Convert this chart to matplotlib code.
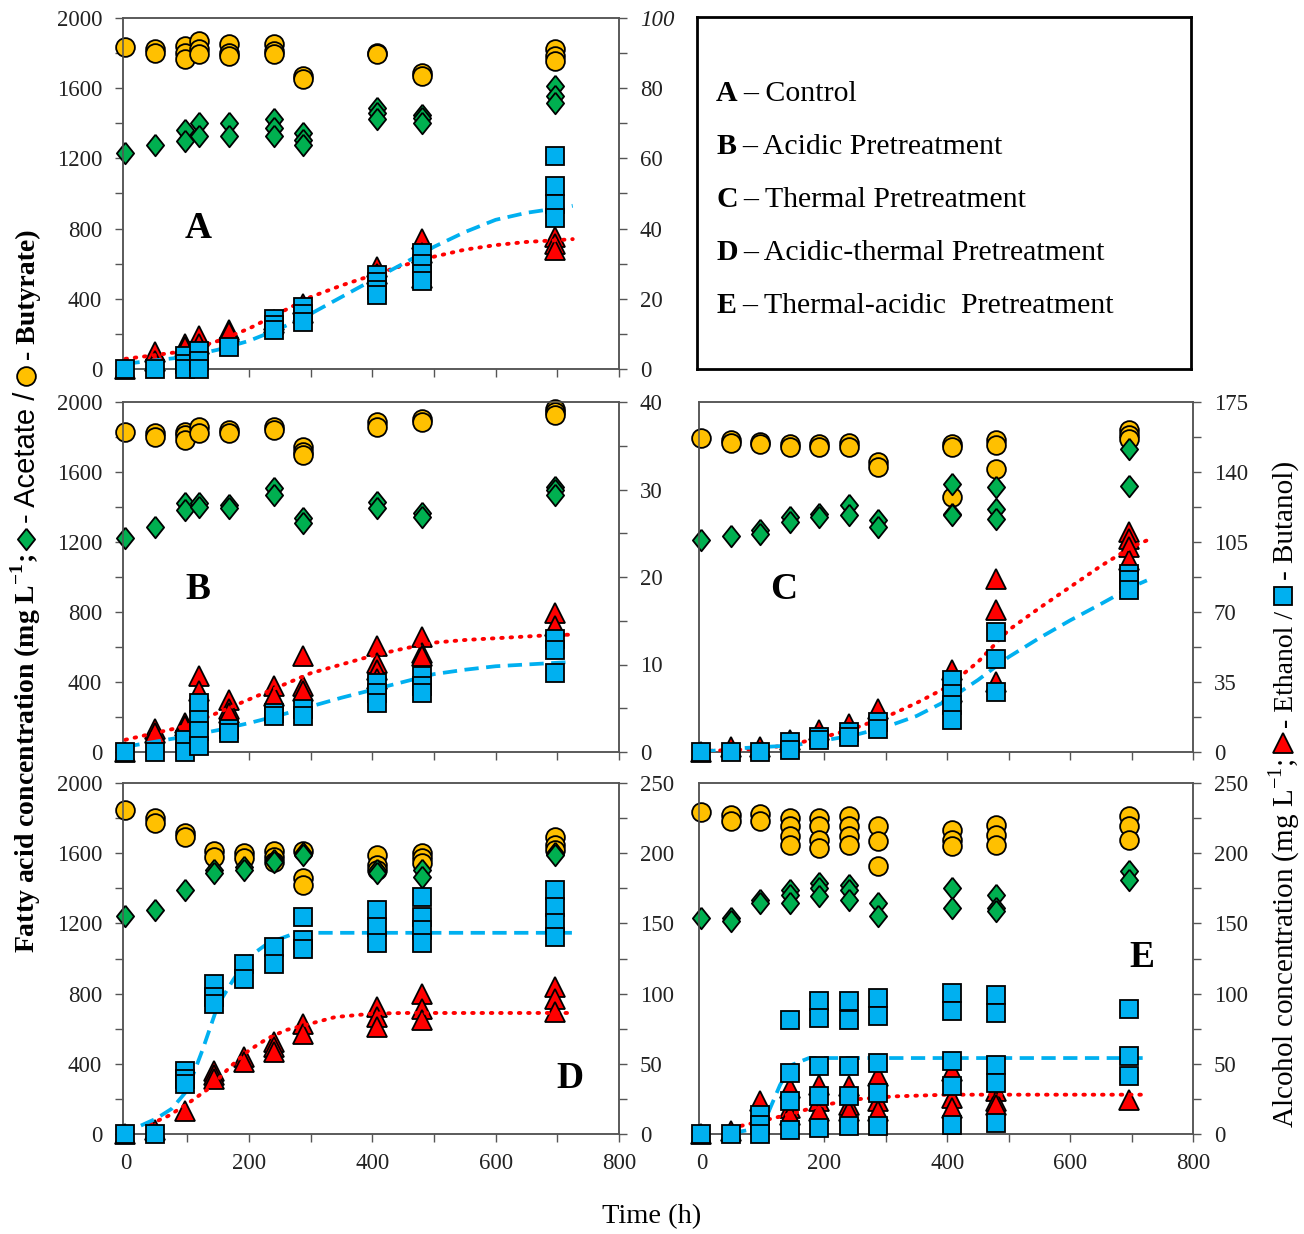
import numpy as np
import matplotlib
matplotlib.use("Agg")
import matplotlib.pyplot as plt
from matplotlib.lines import Line2D
from matplotlib.ticker import MultipleLocator

plt.rcParams['font.family'] = ['Liberation Serif', 'DejaVu Serif']
plt.rcParams['mathtext.fontset'] = 'custom'
plt.rcParams['mathtext.rm'] = 'Liberation Serif'
plt.rcParams['mathtext.bf'] = 'Liberation Serif:bold'

# ---------------------------------------------------------------- data
# sampling times (h)
times_ab = [0, 48, 96, 120, 168, 240, 288, 408, 480, 696]
times_cde = [0, 48, 96, 144, 192, 240, 288, 408, 480, 696]

# A - Control (fatty acids in mg/L, alcohols in mg/L); replicates per time
A_butyrate = [[1832], [1822, 1803], [1842, 1803, 1765], [1870, 1822, 1794], [1851, 1803, 1784],
              [1850, 1813, 1794], [1670, 1651], [1803, 1794], [1689, 1670], [1822, 1784, 1756]]
A_acetate = [[1231], [1275], [1364, 1298], [1403, 1326], [1403, 1326], [1422, 1374, 1326],
             [1345, 1307, 1279], [1489, 1460, 1422], [1450, 1431, 1403], [1613, 1555, 1517]]
A_ethanol = [[0], [4.8, 2.4], [7.2, 6.2], [9.5, 7.0], [11.0, 10.5], [14.0, 13.0], [18.6, 16.0],
             [29.0, 27.0], [37.0, 33.0, 26.0], [37.5, 35.5, 34.0]]
A_butanol = [[0], [0], [3.8, 1.5, 0], [5.2, 2.4, 0], [6.2], [14.3, 12.4, 11.0], [17.7, 15.7, 13.4],
             [26.7, 24.8, 22.4, 21.0], [33.0, 30.0, 27.0, 25.0], [60.6, 52.0, 47.0, 43.0]]
A_fit_t = [0, 50, 100, 150, 200, 250, 300, 350, 400, 450, 500, 550, 600, 650, 700, 725]
A_fit_ethanol = [2.9, 4.0, 5.2, 8.0, 11.5, 16.0, 20.5, 23.8, 26.7, 29.5, 32.0, 34.0, 35.3, 36.2, 36.7, 37.0]
A_fit_butanol = [1.5, 2.5, 3.5, 5.5, 8.0, 11.5, 15.7, 20.5, 25.3, 30.0, 34.8, 39.0, 42.5, 44.5, 45.8, 46.5]

# B - Acidic pretreatment
B_butyrate = [[1829], [1820, 1800], [1829, 1810, 1782], [1857, 1820], [1842, 1820], [1857, 1838],
              [1744, 1715, 1696], [1886, 1857], [1905, 1886], [1962, 1943, 1924]]
B_acetate = [[1221], [1288], [1421, 1383], [1421, 1402], [1410, 1395], [1506, 1468], [1335, 1307],
             [1430, 1392], [1364, 1345], [1516, 1497, 1468]]
B_ethanol = [[0], [2.6, 2.2], [3.3, 3.0], [8.7, 7.0], [6.0, 4.9, 4.5], [7.5, 6.4], [11.0, 7.5, 7.0],
             [12.1, 10.2, 9.4, 8.3], [13.2, 11.3, 11.0], [15.9, 14.4]]
B_butanol = [[0], [0], [1.4, 0], [5.6, 3.7, 2.4, 0.7], [2.6, 2.2], [4.5, 4.1], [4.9, 4.1],
             [7.9, 6.8, 5.6], [8.7, 7.5, 6.8], [12.9, 11.7, 9.0]]
B_fit_t = [0, 50, 100, 150, 200, 250, 300, 350, 400, 450, 500, 550, 600, 650, 700, 725]
B_fit_ethanol = [1.4, 2.2, 3.0, 4.5, 6.0, 7.5, 9.0, 10.0, 11.0, 11.8, 12.5, 12.8, 13.0, 13.2, 13.4, 13.4]
B_fit_butanol = [0.6, 1.2, 1.8, 2.5, 3.3, 4.2, 5.2, 6.2, 7.1, 8.0, 8.9, 9.4, 9.8, 10.0, 10.2, 10.3]

# C - Thermal pretreatment
C_butyrate = [[1796], [1780, 1765], [1771, 1762], [1762, 1743], [1762, 1743], [1766, 1743],
              [1657, 1629], [1762, 1743, 1457], [1781, 1752, 1619], [1838, 1810, 1790]]
C_acetate = [[1210], [1232], [1267, 1244], [1343, 1314], [1362, 1343], [1410, 1352], [1324, 1286],
             [1533, 1362, 1352], [1514, 1390, 1333], [1733, 1518]]
C_ethanol = [[0], [2.5], [2.5], [5.8], [10.8], [14.2], [21.7], [40.8, 30.0], [86.7, 70.8, 35.0],
             [110.0, 106.7, 102.5, 95.8]]
C_butanol = [[0], [0], [0], [5.0, 0.8], [7.5, 5.8], [10.0, 7.5], [15.0, 11.7],
             [35.8, 29.2, 23.3, 15.8], [60.0, 46.7, 30.0], [89.0, 85.8, 80.8]]
C_fit_t = [0, 50, 100, 150, 200, 250, 300, 350, 400, 450, 500, 550, 600, 650, 700, 725]
C_fit_ethanol = [0.5, 1.0, 1.7, 4.0, 7.5, 12.0, 17.5, 24.5, 32.5, 45.0, 61.0, 72.0, 82.5, 93.0, 102.5, 105.8]
C_fit_butanol = [0.0, 1.7, 2.5, 3.3, 5.8, 8.5, 12.5, 18.0, 25.8, 36.0, 47.5, 57.0, 65.8, 74.0, 82.5, 85.8]

# D - Acidic-thermal pretreatment
D_butyrate = [[1848], [1800, 1771], [1714, 1695], [1610, 1581], [1600, 1571], [1610, 1581, 1552],
              [1610, 1457, 1419], [1590, 1533, 1505], [1600, 1571, 1543], [1695, 1648, 1619]]
D_acetate = [[1242], [1276], [1390], [1505, 1486], [1524, 1505], [1560, 1550], [1600, 1590],
             [1505, 1486], [1505, 1467], [1600, 1590]]
D_ethanol = [[0], [3.0], [16.7], [45.0, 41.7, 39.0], [54.8, 51.2], [65.5, 62.0, 58.3], [78.6, 71.4],
             [90.5, 83.3, 76.2], [100.0, 89.3, 81.0], [104.8, 96.4, 86.9]]
D_butanol = [[0], [0], [45.2, 39.3, 35.7], [107.0, 97.6, 92.9], [121.0, 110.7], [133.0, 121.0],
             [154.8, 138.0, 132.0], [159.5, 147.6, 135.7], [169.0, 154.8, 145.0, 135.7],
             [173.8, 161.9, 150.0, 140.5]]
D_fit_t_ethanol = [40, 70, 100, 137, 170, 200, 230, 260, 300, 340, 400, 450, 500, 600, 725]
D_fit_ethanol = [7.0, 13.0, 21.4, 33.0, 48.0, 59.5, 68.0, 74.0, 78.6, 83.3, 85.7, 86.2, 86.2, 86.2, 86.2]
D_fit_t_butanol = [25, 50, 75, 100, 125, 150, 175, 200, 225, 250, 275, 300, 400, 500, 600, 725]
D_fit_butanol = [6.0, 11.0, 18.0, 31.0, 60.0, 92.0, 110.0, 126.0, 134.0, 139.0, 143.0, 143.3, 143.3,
                 143.3, 143.3, 143.3]

# E - Thermal-acidic pretreatment
E_butyrate = [[1835], [1819, 1781], [1823, 1781], [1800, 1753, 1696, 1648], [1800, 1753, 1677, 1630],
              [1810, 1753, 1696, 1648], [1753, 1667, 1525], [1734, 1677, 1639], [1762, 1705, 1648],
              [1810, 1753, 1677]]
E_acetate = [[1231], [1231, 1211], [1335, 1316], [1392, 1364, 1316], [1430, 1402, 1354],
             [1421, 1392, 1335], [1316, 1240], [1402, 1288], [1364, 1288, 1269], [1497, 1449]]
E_ethanol = [[0], [2.0], [23.3], [32.8, 18.5, 13.8], [35.0, 23.3, 16.1], [34.0, 20.9, 16.1],
             [41.0, 23.3, 16.1], [44.6, 25.6, 18.5], [30.4, 23.3, 20.9], [24.5]]
E_butanol = [[0], [0], [13.8, 6.6, 0], [81.4, 43.4, 23.3, 3.1], [94.5, 82.6, 48.2, 26.8, 4.3],
             [94.5, 81.4, 48.2, 26.8, 5.5], [96.9, 83.8, 50.6, 29.2, 5.5], [100.4, 87.4, 51.8, 34.0, 6.6],
             [99.2, 86.2, 49.4, 36.3, 7.8], [89.3, 55.3, 41.1]]
E_fit_t_ethanol = [50, 107, 141, 190, 245, 314, 400, 500, 600, 725]
E_fit_ethanol = [4.3, 10.2, 13.8, 19.7, 24.5, 26.8, 28.0, 28.0, 28.0, 28.0]
E_fit_t_butanol = [50, 80, 105, 128, 148, 175, 200, 300, 400, 500, 600, 725]
E_fit_butanol = [0.7, 3.1, 11.4, 35.0, 49.4, 54.1, 54.1, 54.1, 54.1, 54.1, 54.1, 54.1]

legend_letters = ['A', 'B', 'C', 'D', 'E']
legend_names = ['Control', 'Acidic Pretreatment', 'Thermal Pretreatment',
                'Acidic-thermal Pretreatment', 'Thermal-acidic  Pretreatment']

# ---------------------------------------------------------------- style
W, H = 1304, 1234
DPI = 100
YELLOW, GREEN, RED, BLUE = '#FFC000', '#00B050', '#FF0000', '#00B0F0'
SPINE = '#555555'
TICKFS = 16.5
DIAMOND = [(0, 1), (0.8, 0), (0, -1), (-0.8, 0), (0, 1)]

mk_circle = dict(marker='o', ms=13.5, mfc=YELLOW, mec='black', mew=1.3, ls='none', clip_on=False)
mk_diamond = dict(marker=DIAMOND, ms=15.5, mfc=GREEN, mec='black', mew=1.3, ls='none', clip_on=False)
mk_tri = dict(marker='^', ms=14.5, mfc=RED, mec='black', mew=1.3, ls='none', clip_on=False)
mk_square = dict(marker='s', ms=13.3, mfc=BLUE, mec='black', mew=1.3, ls='none', clip_on=False)

fig = plt.figure(figsize=(W / DPI, H / DPI), dpi=DPI)


def rect(l, t, r, b):
    return [l / W, 1 - b / H, (r - l) / W, (b - t) / H]


def flat(times, groups):
    xs, ys = [], []
    for t, g in zip(times, groups):
        for v in g:
            xs.append(t)
            ys.append(v)
    return xs, ys


def style_axis(ax):
    for s in ax.spines.values():
        s.set_color(SPINE)
        s.set_linewidth(1.1)
    ax.tick_params(which='both', direction='out', length=6, width=1.0, color=SPINE,
                   labelsize=TICKFS, labelcolor='#222222')


def panel(box, times, but, ace, eth, bua, fit_e, fit_b, rmax, rlab, rminor,
          letter, letter_xy, left_labels=True, x_labels=False):
    ax = fig.add_axes(rect(*box))
    ax.set_xlim(-4, 800)
    ax.set_ylim(0, 2000)
    style_axis(ax)
    ax.xaxis.set_major_locator(MultipleLocator(200))
    ax.xaxis.set_minor_locator(MultipleLocator(100))
    if not x_labels:
        ax.tick_params(axis='x', which='both', labelbottom=False)
    ax.tick_params(axis='x', pad=8)
    if left_labels:
        ax.yaxis.set_major_locator(MultipleLocator(400))
        ax.yaxis.set_minor_locator(MultipleLocator(200))
        ax.tick_params(axis='y', pad=9)
    else:
        ax.set_yticks([])
    ax.plot(*flat(times, but), zorder=3, **mk_circle)
    ax.plot(*flat(times, ace), zorder=4, **mk_diamond)
    ax.text(letter_xy[0], letter_xy[1], letter, fontsize=27, fontweight='bold',
            ha='center', va='center')

    rx = ax.twinx()
    rx.set_ylim(0, rmax)
    style_axis(rx)
    rx.yaxis.set_major_locator(MultipleLocator(rlab))
    rx.yaxis.set_minor_locator(MultipleLocator(rminor))
    rx.tick_params(axis='y', pad=9)
    rx.yaxis.set_major_formatter(lambda v, p: f'{v:g}')
    rx.plot(*flat(times, eth), zorder=2, **mk_tri)
    rx.plot(fit_e[0], fit_e[1], color=RED, lw=2.8, ls=(0, (0.4, 2.0)),
            dash_capstyle='round', zorder=3)
    rx.plot(fit_b[0], fit_b[1], color=BLUE, lw=2.7, ls=(0, (3.8, 2.0)), zorder=3)
    rx.plot(*flat(times, bua), zorder=4, **mk_square)
    return ax, rx


axA, rxA = panel((123, 18, 619, 369), times_ab, A_butyrate, A_acetate, A_ethanol, A_butanol,
                 (A_fit_t, A_fit_ethanol), (A_fit_t, A_fit_butanol), 100, 20, 10,
                 'A', (117, 800))
axB, rxB = panel((123, 402, 619, 752), times_ab, B_butyrate, B_acetate, B_ethanol, B_butanol,
                 (B_fit_t, B_fit_ethanol), (B_fit_t, B_fit_butanol), 40, 10, 5,
                 'B', (117, 926))
axC, rxC = panel((699, 402, 1193, 752), times_cde, C_butyrate, C_acetate, C_ethanol, C_butanol,
                 (C_fit_t, C_fit_ethanol), (C_fit_t, C_fit_butanol), 175, 35, 17.5,
                 'C', (134, 926), left_labels=False)
axD, rxD = panel((123, 783, 619, 1134), times_cde, D_butyrate, D_acetate, D_ethanol, D_butanol,
                 (D_fit_t_ethanol, D_fit_ethanol), (D_fit_t_butanol, D_fit_butanol), 250, 50, 25,
                 'D', (720, 319), x_labels=True)
axE, rxE = panel((699, 783, 1193, 1134), times_cde, E_butyrate, E_acetate, E_ethanol, E_butanol,
                 (E_fit_t_ethanol, E_fit_ethanol), (E_fit_t_butanol, E_fit_butanol), 250, 50, 25,
                 'E', (717, 1003), left_labels=False, x_labels=True)

# the top label of the control panel's alcohol axis is set in italics
fig.canvas.draw()
for lab in rxA.get_yticklabels():
    if lab.get_text() == '100':
        lab.set_fontstyle('italic')

# ---------------------------------------------------------------- legend box
box = fig.add_axes(rect(697, 17, 1191, 369))
box.set_xticks([])
box.set_yticks([])
for s in box.spines.values():
    s.set_linewidth(2.0)
    s.set_color('black')

renderer = fig.canvas.get_renderer()


def px(x, y):
    return x / W, 1 - y / H


def run(x0, y0, pieces, vertical=False):
    """Lay out text pieces and inline markers one after another (pixel coords, y downward)."""
    pos = y0 if vertical else x0
    for kind, val, kw in pieces:
        if kind == 'text':
            if vertical:
                t = fig.text(*px(x0, pos), val, rotation=90, rotation_mode='anchor',
                             ha='left', va='baseline', **kw)
                pos -= t.get_window_extent(renderer).height
            else:
                t = fig.text(*px(pos, y0), val, ha='left', va='baseline', **kw)
                pos += t.get_window_extent(renderer).width
        elif kind == 'gap':
            pos += -val if vertical else val
        elif kind == 'marker':
            size_px, off, style = kw['size'], kw['off'], kw['style']
            if vertical:
                c = pos - size_px / 2
                fig.add_artist(Line2D([px(x0 - off, c)[0]], [px(x0 - off, c)[1]],
                                      transform=fig.transFigure, **style))
                pos -= size_px
            else:
                c = pos + size_px / 2
                fig.add_artist(Line2D([px(c, y0 - off)[0]], [px(c, y0 - off)[1]],
                                      transform=fig.transFigure, **style))
                pos += size_px


LEGFS = 21.5
for i, (L, name) in enumerate(zip(legend_letters, legend_names)):
    run(716, 101 + 53 * i, [('text', L, dict(fontsize=LEGFS, fontweight='bold')),
                            ('gap', 6, None),
                            ('text', '– ' + name, dict(fontsize=LEGFS))])

# ---------------------------------------------------------------- axis titles
mstyle = lambda d: {k: v for k, v in d.items() if k != 'clip_on'}
run(35, 953, [
    ('text', r'Fatty acid concentration (mg L$^{\mathbf{-1}}$;', dict(fontsize=20, fontweight='bold')),
    ('gap', 5, None),
    ('marker', None, dict(size=20, off=9, style=mstyle(mk_diamond))),
    ('gap', 6, None),
    ('text', '- Acetate /', dict(fontsize=21, family=['Liberation Sans', 'DejaVu Sans'])),
    ('gap', 6, None),
    ('marker', None, dict(size=18, off=9, style=mstyle(mk_circle))),
    ('gap', 7, None),
    ('text', '- Butyrate)', dict(fontsize=20, fontweight='bold')),
], vertical=True)

run(1293, 1128, [
    ('text', r'Alcohol concentration (mg L$^{-1}$;', dict(fontsize=21)),
    ('gap', 5, None),
    ('marker', None, dict(size=20, off=10, style=mstyle(mk_tri))),
    ('gap', 5, None),
    ('text', '- Ethanol /', dict(fontsize=20)),
    ('gap', 6, None),
    ('marker', None, dict(size=18, off=10, style=mstyle(mk_square))),
    ('gap', 7, None),
    ('text', '- Butanol)', dict(fontsize=21)),
], vertical=True)

fig.text(*px(652, 1217), 'Time (h)', fontsize=20.5, ha='center', va='center')

fig.savefig('out.png', dpi=DPI)
